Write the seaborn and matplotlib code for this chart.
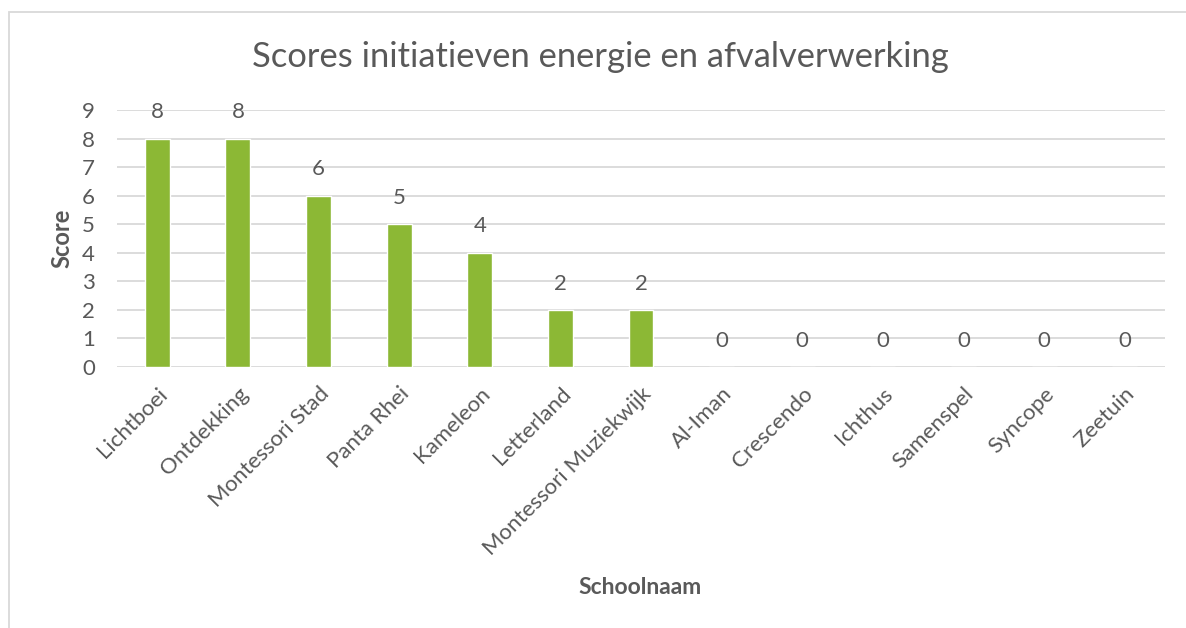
import matplotlib
matplotlib.use("Agg")
import matplotlib.pyplot as plt
import seaborn as sns
import pandas as pd
from matplotlib.patches import Rectangle

schools = ["Lichtboei", "Ontdekking", "Montessori Stad", "Panta Rhei", "Kameleon",
           "Letterland", "Montessori Muziekwijk", "Al-Iman", "Crescendo", "Ichthus",
           "Samenspel", "Syncope", "Zeetuin"]
scores = [8, 8, 6, 5, 4, 2, 2, 0, 0, 0, 0, 0, 0]
yticks = [0, 1, 2, 3, 4, 5, 6, 7, 8, 9]

title = "Scores initiatieven energie en afvalverwerking"
xlabel = "Schoolnaam"
ylabel = "Score"

df = pd.DataFrame({"school": schools, "score": scores})

sns.set_theme(style="white")
plt.rcParams["font.family"] = ["Lato", "DejaVu Sans"]

W, H = 1186, 628
fig = plt.figure(figsize=(W / 100, H / 100), dpi=100)
fig.patch.set_facecolor("white")
ax = fig.add_axes([117 / W, 1 - 367 / H, (1165 - 117) / W, (367 - 110) / H])

txt = "#595959"
sns.barplot(data=df, x="school", y="score", color="#8cb835", width=0.31,
            saturation=1, ax=ax, zorder=3)

ax.set_ylim(0, 9)
ax.set_xlim(-0.5, len(schools) - 0.5)
ax.set_yticks(yticks)
ax.yaxis.grid(True, color="#d9d9d9", linewidth=1.3, zorder=0)
ax.set_axisbelow(True)
for s in ax.spines.values():
    s.set_visible(False)
ax.tick_params(axis="both", length=0, colors=txt, labelsize=16)
ax.tick_params(axis="y", pad=16)
ax.set_xticks(range(len(schools)))
ax.set_xticklabels(schools, rotation=45, ha="right", rotation_mode="anchor",
                   color=txt, fontsize=16)
ax.tick_params(axis="x", pad=12)

for i, v in enumerate(scores):
    ax.annotate(str(v), (i, v), xytext=(0, 19), textcoords="offset points",
                ha="center", va="center", fontsize=16, color=txt)

ax.set_ylabel("")
ax.set_xlabel("")
fig.text(62 / W, 1 - 238 / H, ylabel, ha="center", va="center", rotation=90,
         fontsize=17, fontweight="bold", color=txt)
fig.text(640 / W, 1 - 588 / H, xlabel, ha="center", va="center",
         fontsize=16.5, fontweight="bold", color=txt)
fig.text(600 / W, 1 - 57 / H, title, ha="center", va="center",
         fontsize=24.8, color=txt)

fig.patches.append(Rectangle((8.5 / W, -0.1), 1.2, 1 - 11.5 / H + 0.1,
                             transform=fig.transFigure, fill=False,
                             edgecolor="#d9d9d9", linewidth=1.3))

fig.savefig("out.png", dpi=100, facecolor="white")
